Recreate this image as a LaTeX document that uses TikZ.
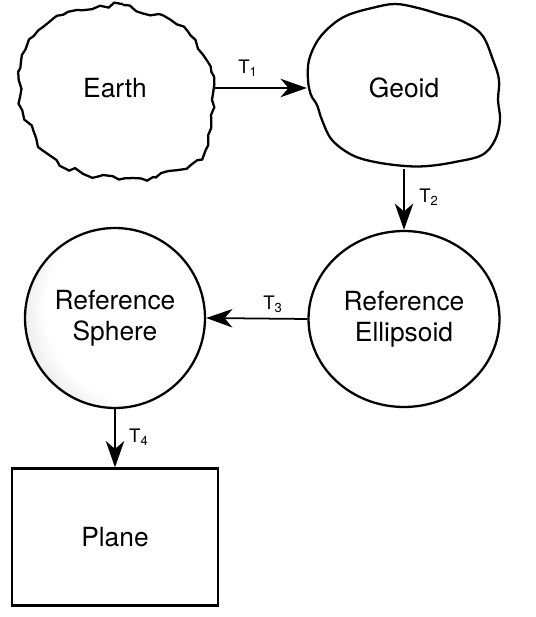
\documentclass[tikz,border=0pt]{standalone}
\usepackage{fontspec}
\setmainfont{TeX Gyre Heros}
\usetikzlibrary{arrows.meta,shapes.geometric,decorations.pathmorphing}
\pgfdeclareradialshading{spheregray}{\pgfpoint{14bp}{6bp}}{color(0bp)=(white); color(26bp)=(white); color(50bp)=(black!35)}
\begin{document}
\begin{tikzpicture}[x=0.02cm, y=-0.02cm, line width=1.3pt,
    every node/.style={font=\fontsize{15}{17.5}\selectfont, align=center, inner sep=0pt},
    tlabel/.style={font=\fontsize{10.6}{12}\selectfont},
    trans/.style={-{Stealth[length=15pt,width=10.5pt,inset=4.5pt]}, line width=1pt}]
    \useasboundingbox (0,0) rectangle (535,617);
    %% outlines of earth and geoid
    \pgfmathsetseed{7}
    \draw[decorate, decoration={random steps, segment length=4pt, amplitude=1.5pt}]
        plot[smooth cycle, tension=0.6] coordinates {(100,6) (123,5) (143,13) (170,20) (190,35) (203,55) (211,72) (212,100) (211,128) (207,145) (197,160) (177,170) (153,177) (133,178) (100,176) (83,173) (60,165) (43,150) (33,130) (23,110) (19,80) (22,55) (30,40) (43,27) (57,16) (77,10)};
    \draw plot[smooth cycle, tension=0.6] coordinates {(395,4) (418,8) (442,15) (462,21) (482,35) (493,60) (499,80) (498,100) (500,120) (495,140) (482,155) (455,162) (428,166) (405,166) (375,162) (352,155) (332,140) (322,120) (317,105) (311,95) (308,80) (309,60) (318,40) (332,25) (348,15) (372,8)};
    \node at (115,88) (earth) [minimum width=3.9cm, minimum height=3.48cm] {Earth};
    \node at (404,88) (geoid) [minimum width=3.84cm, minimum height=3.2cm] {Geoid};
    %% ellipsoid, sphere and plane
    \node at (404,319) (ellipsoid) [draw, ellipse, minimum width=3.82cm, minimum height=3.52cm] {Reference\\Ellipsoid};
    \node at (115,318) (sphere) [draw, circle, minimum size=3.6cm, shading=spheregray] {Reference\\Sphere};
    \node at (115,537) (plane) [draw, rectangle, minimum width=4.12cm, minimum height=2.74cm] {Plane};
    %% transformations
    \draw[trans] (earth.east) -- (geoid.west);
    \draw[trans] (geoid.south) -- (ellipsoid.north);
    \draw[trans] (ellipsoid.west) -- (sphere.east);
    \draw[trans] (sphere.south) -- (plane.north);
    \node at (248,68) (t1) [tlabel] {T\textsubscript{1}};
    \node at (429,197) (t2) [tlabel] {T\textsubscript{2}};
    \node at (273,304) (t3) [tlabel] {T\textsubscript{3}};
    \node at (139,437) (t4) [tlabel] {T\textsubscript{4}};
\end{tikzpicture}
\end{document}
